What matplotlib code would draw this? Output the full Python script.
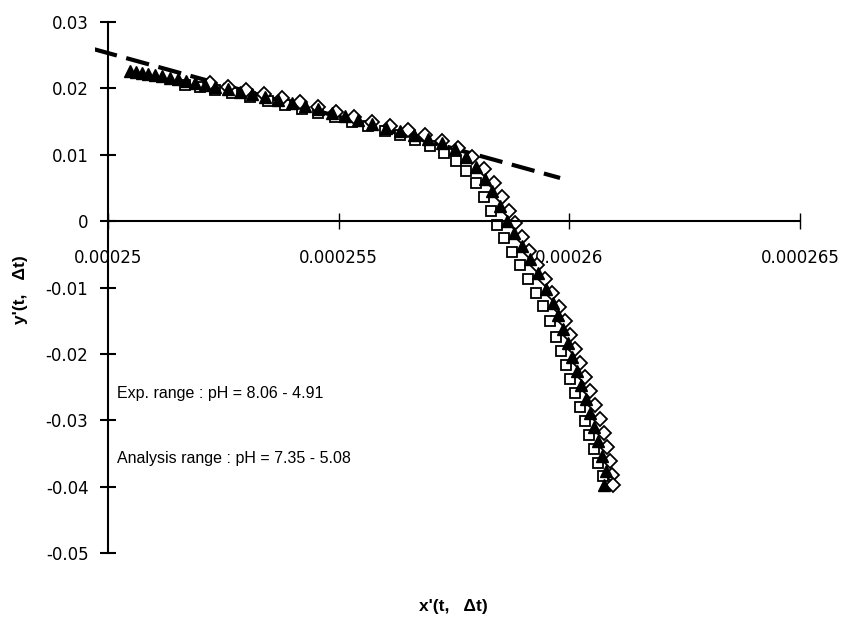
import matplotlib
matplotlib.use('Agg')
import matplotlib.pyplot as plt

# filled triangles
tri_x = [0.00025048, 0.00025061, 0.00025074, 0.00025087, 0.00025102, 0.00025117, 0.00025134,
         0.00025152, 0.00025169, 0.00025189, 0.00025210, 0.00025232, 0.00025260, 0.00025286,
         0.00025312, 0.00025340, 0.00025368, 0.00025399, 0.00025427, 0.00025455, 0.00025485,
         0.00025514, 0.00025542, 0.00025572, 0.00025603, 0.00025633, 0.00025663, 0.00025694,
         0.00025724, 0.00025752, 0.00025776, 0.00025798, 0.00025817, 0.00025832, 0.00025850,
         0.00025865, 0.00025880, 0.00025897, 0.00025915, 0.00025932, 0.00025949, 0.00025964,
         0.00025975, 0.00025986, 0.00025997, 0.00026006, 0.00026016, 0.00026025, 0.00026036,
         0.00026045, 0.00026053, 0.00026062, 0.00026071, 0.00026079, 0.00026075]
tri_y = [0.02262, 0.02247, 0.02232, 0.02217, 0.02202, 0.02187, 0.02156,
         0.02141, 0.02111, 0.02081, 0.02051, 0.02021, 0.01991, 0.01945,
         0.01915, 0.01870, 0.01825, 0.01779, 0.01734, 0.01689, 0.01629,
         0.01583, 0.01523, 0.01463, 0.01402, 0.01357, 0.01297, 0.01237,
         0.01176, 0.01086, 0.00965, 0.00814, 0.00633, 0.00452, 0.00226,
         0.0, -0.00181, -0.00377, -0.00573, -0.00784, -0.01025, -0.01237,
         -0.01418, -0.01629, -0.01840, -0.02051, -0.02262, -0.02473, -0.02684,
         -0.02895, -0.03106, -0.03318, -0.03544, -0.03770, -0.03981]

# open squares
sq_x = [0.00025167, 0.00025199, 0.00025232, 0.00025269, 0.00025308, 0.00025347, 0.00025384,
        0.00025420, 0.00025455, 0.00025492, 0.00025529, 0.00025563, 0.00025600, 0.00025633,
        0.00025665, 0.00025698, 0.00025728, 0.00025754, 0.00025776, 0.00025798, 0.00025815,
        0.00025830, 0.00025843, 0.00025858, 0.00025876, 0.00025893, 0.00025910, 0.00025928,
        0.00025943, 0.00025958, 0.00025971, 0.00025982, 0.00025993, 0.00026001, 0.00026012,
        0.00026023, 0.00026034, 0.00026042, 0.00026053, 0.00026062, 0.00026073]
sq_y = [0.02051, 0.02021, 0.01975, 0.01930, 0.01870, 0.01810, 0.01749,
        0.01689, 0.01629, 0.01568, 0.01493, 0.01433, 0.01357, 0.01297,
        0.01221, 0.01131, 0.01025, 0.00905, 0.00754, 0.00573, 0.00362,
        0.00151, -0.00060, -0.00256, -0.00467, -0.00664, -0.00875, -0.01086,
        -0.01282, -0.01508, -0.01749, -0.01960, -0.02172, -0.02383, -0.02594,
        -0.02805, -0.03016, -0.03227, -0.03438, -0.03649, -0.03845]

# open diamonds
dia_x = [0.00025221, 0.00025260, 0.00025299, 0.00025338, 0.00025377, 0.00025416, 0.00025455,
         0.00025494, 0.00025533, 0.00025572, 0.00025611, 0.00025650, 0.00025687, 0.00025724,
         0.00025759, 0.00025789, 0.00025815, 0.00025837, 0.00025854, 0.00025869, 0.00025882,
         0.00025897, 0.00025912, 0.00025930, 0.00025947, 0.00025962, 0.00025977, 0.00025990,
         0.00026001, 0.00026012, 0.00026023, 0.00026034, 0.00026045, 0.00026055, 0.00026066,
         0.00026075, 0.00026081, 0.00026088, 0.00026092, 0.00026094]
dia_y = [0.02081, 0.02021, 0.01975, 0.01915, 0.01855, 0.01795, 0.01719,
         0.01644, 0.01568, 0.01493, 0.01433, 0.01372, 0.01297, 0.01206,
         0.01101, 0.00965, 0.00784, 0.00573, 0.00362, 0.00151, -0.00030,
         -0.00241, -0.00452, -0.00664, -0.00875, -0.01086, -0.01297, -0.01508,
         -0.01719, -0.01930, -0.02141, -0.02352, -0.02564, -0.02775, -0.02986,
         -0.03197, -0.03408, -0.03619, -0.03830, -0.03981]

# dashed straight-line fit
fit_x = [0.0002497, 0.0002598]
fit_y = [0.0259, 0.0065]

x_ticks = [0.00025, 0.000255, 0.00026, 0.000265]
x_ticklabels = ['0.00025', '0.000255', '0.00026', '0.000265']
y_ticks = [0.03, 0.02, 0.01, 0, -0.01, -0.02, -0.03, -0.04, -0.05]
y_ticklabels = ['0.03', '0.02', '0.01', '0', '-0.01', '-0.02', '-0.03', '-0.04', '-0.05']

plt.rcParams['lines.scale_dashes'] = False

fig = plt.figure(figsize=(8.45, 6.19), dpi=100)
ax = fig.add_axes([0.11243, 0.10662, 0.83432, 0.85784])

ax.plot(fit_x, fit_y, color='black', linewidth=3, dashes=(17, 7), solid_capstyle='butt')
ax.plot(sq_x, sq_y, linestyle='none', marker='s', markersize=7.5, markerfacecolor='white',
        markeredgecolor='black', markeredgewidth=1.3)
ax.plot(dia_x, dia_y, linestyle='none', marker='D', markersize=7, markerfacecolor='white',
        markeredgecolor='black', markeredgewidth=1.3)
ax.plot(tri_x, tri_y, linestyle='none', marker='^', markersize=8.5, color='black')

ax.set_xlim(0.00024972, 0.000265)
ax.set_ylim(-0.05, 0.03)

ax.spines['top'].set_visible(False)
ax.spines['right'].set_visible(False)
ax.spines['left'].set_position(('data', 0.00025))
ax.spines['bottom'].set_position(('data', 0))
ax.spines['bottom'].set_bounds(0.00025, 0.000265)
ax.spines['left'].set_linewidth(1.5)
ax.spines['bottom'].set_linewidth(1.5)

ax.set_xticks(x_ticks)
ax.set_xticklabels(x_ticklabels, fontsize=12, family='DejaVu Sans')
ax.set_yticks(y_ticks)
ax.set_yticklabels(y_ticklabels, fontsize=12, family='DejaVu Sans')
ax.tick_params(axis='x', direction='inout', length=12, width=1, pad=14)
ax.tick_params(axis='y', direction='inout', length=12, width=1.5, pad=8)

ax.text(0.0002502, -0.02594, 'Exp. range : pH = 8.06 - 4.91', fontsize=11.5,
        family='Liberation Sans', va='center', ha='left')
ax.text(0.0002502, -0.03574, 'Analysis range : pH = 7.35 - 5.08', fontsize=11.5,
        family='Liberation Sans', va='center', ha='left')

fig.text(21 / 845, 1 - 290 / 619, "y'(t,   \u0394t)", rotation=90, fontsize=12.5,
         fontweight='bold', family='Liberation Sans', ha='center', va='center')
fig.text(453 / 845, 1 - 607 / 619, "x'(t,   \u0394t)", fontsize=12.5,
         fontweight='bold', family='Liberation Sans', ha='center', va='center')

fig.savefig('out.png', dpi=100)
